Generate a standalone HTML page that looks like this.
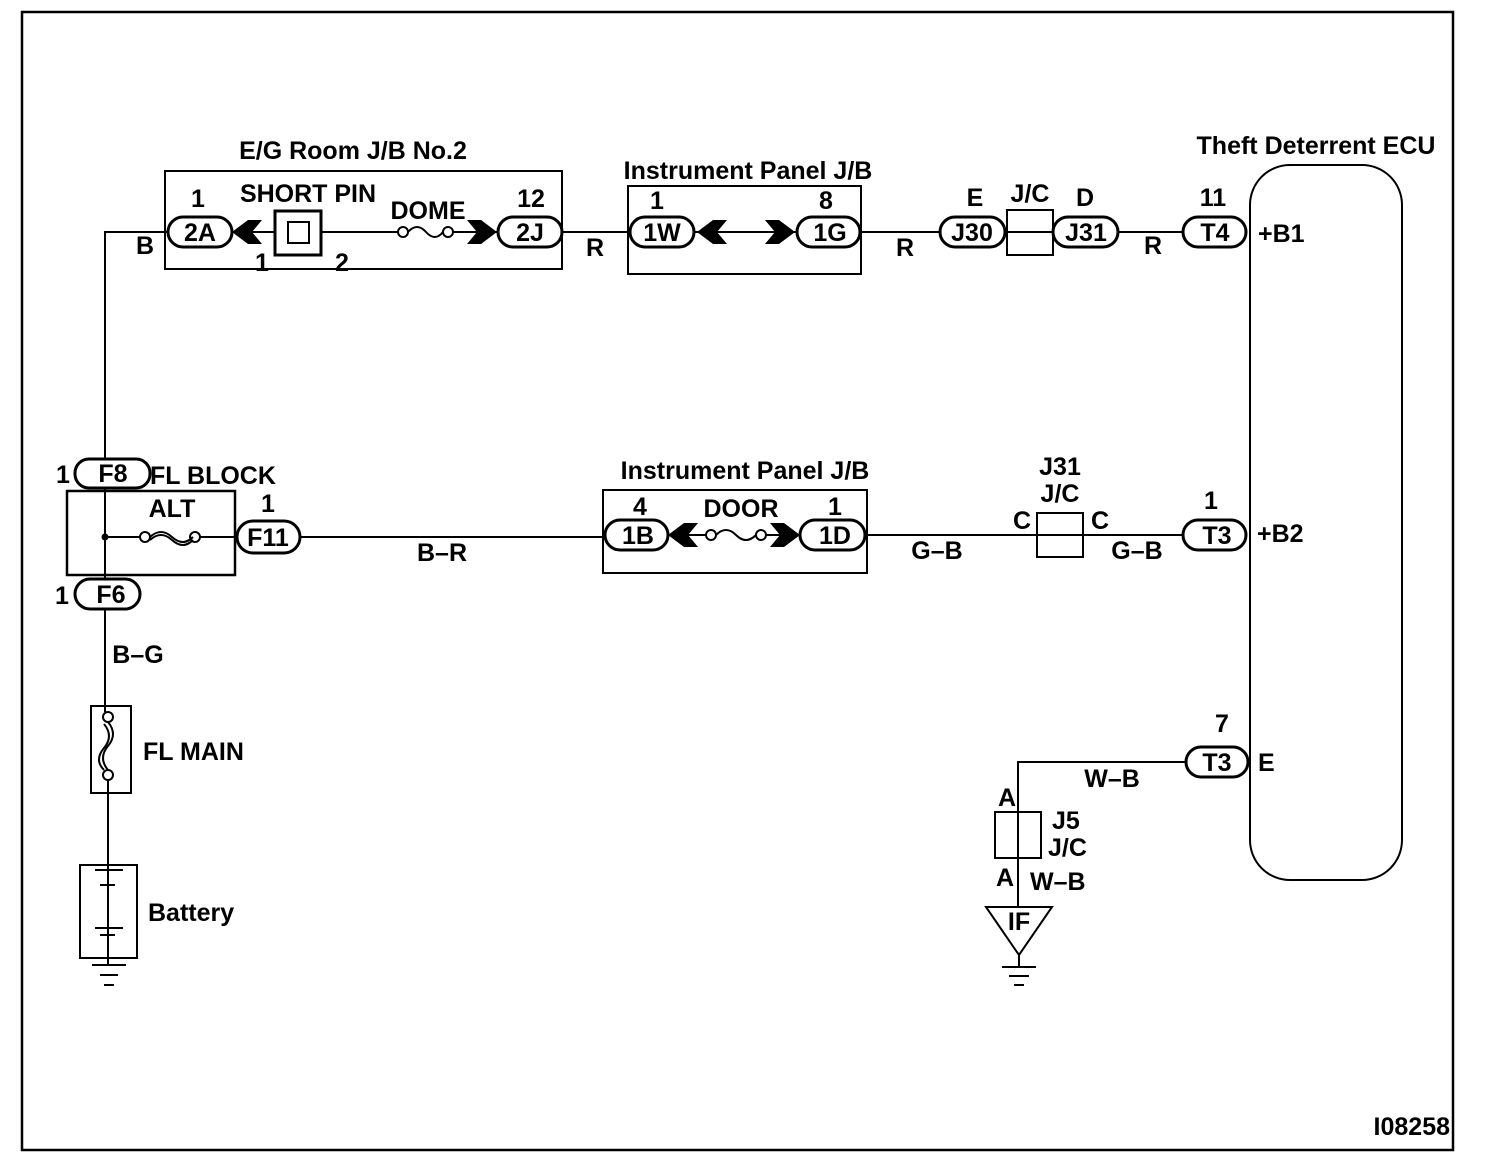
<!DOCTYPE html>
<html><head><meta charset="utf-8"><style>
html,body{margin:0;padding:0;background:#fff}
svg{display:block}
text{font-family:"Liberation Sans",Arial,sans-serif;font-size:25px;font-weight:bold;fill:#000}
</style></head><body>
<svg width="1504" height="1162" viewBox="0 0 1504 1162" xmlns="http://www.w3.org/2000/svg">
<g fill="none" stroke="#000" stroke-width="2">
<rect x="22" y="12" width="1431" height="1138" stroke-width="2.5"/>
<path d="M105 460 V232 H168 M232 232 H275 M321 232 H398 M452 232 H498 M562 232 H630 M694 232 H797 M860 232 H940 M1118 232 H1183"/>
<rect x="165" y="171" width="397" height="98"/>
<g stroke-width="3">
<rect x="168" y="217" width="64" height="30" rx="15"/>
<rect x="498" y="217" width="64" height="30" rx="15"/>
<rect x="630" y="217" width="64" height="30" rx="15"/>
<rect x="797" y="217" width="63" height="30" rx="15"/>
<rect x="940" y="217" width="65" height="30" rx="15"/>
<rect x="1053" y="217" width="65" height="30" rx="15"/>
<rect x="1183" y="217" width="63" height="30" rx="15"/>
<rect x="75" y="459" width="75" height="29" rx="14"/>
<rect x="237" y="521" width="63" height="32" rx="16"/>
<rect x="605" y="520" width="63" height="30" rx="15"/>
<rect x="800" y="520" width="65" height="30" rx="15"/>
<rect x="1183" y="520" width="63" height="30" rx="15"/>
<rect x="75" y="579" width="65" height="30" rx="15"/>
<rect x="1186" y="747" width="62" height="30" rx="15"/>
</g>
<rect x="275" y="211" width="46" height="44" stroke-width="3"/>
<rect x="288" y="222" width="21" height="21"/>
<circle cx="403" cy="232" r="5"/><circle cx="448" cy="232" r="5"/>
<path d="M408 232 q9 -10 18 0 t17 0"/>
<rect x="628" y="186" width="233" height="88"/>
<rect x="1007" y="210" width="46" height="45"/>
<path d="M1007 232 H1053"/>
<rect x="1250" y="165" width="152" height="715" rx="40"/>
<rect x="67" y="491" width="168" height="84" stroke-width="2.5"/>
<path d="M105 488 V579 M105 537 H140 M200 537 H237"/>
<circle cx="145" cy="537" r="5"/><circle cx="195" cy="537" r="5"/>
<path d="M150 537 q11 -10 22 0 t21 0 M150 540 q11 -10 22 0 t21 0"/>
<path d="M300 537 H605 M668 535 H706 M766 535 H800 M867 535 H1183"/>
<rect x="603" y="490" width="264" height="83"/>
<circle cx="711" cy="535" r="5"/><circle cx="761" cy="535" r="5"/>
<path d="M716 535 q10 -10 20 0 t20 0"/>
<rect x="1037" y="513" width="46" height="44"/>
<path d="M105 609 V712 M108 780 V965"/>
<rect x="91" y="706" width="40" height="87"/>
<circle cx="108" cy="717" r="5"/><circle cx="108" cy="775" r="5"/>
<path d="M108 722 q10 12 0 24 t0 24 M104 724 q10 12 0 24 t0 22"/>
<rect x="80" y="865" width="57" height="93"/>
<path d="M95 870 H123 M100 885 H115 M95 928 H123 M100 935 H115 M92 965 H126 M100 975 H118 M104 985 H114"/>
<path d="M1186 762 H1018 V908"/>
<rect x="995" y="812" width="46" height="46"/>
<path d="M986 907 H1052 L1019 955 Z M1019 955 V967 M1002 967 H1036 M1009 976 H1029 M1014 985 H1024"/>
</g>
<g fill="#000">
<path d="M232 232 L248 220 H262 L252 232 L262 244 H248 Z"/>
<path d="M497 232 L481 220 H467 L477 232 L467 244 H481 Z"/>
<path d="M697 232 L713 220 H727 L717 232 L727 244 H713 Z"/>
<path d="M795 232 L779 220 H765 L775 232 L765 244 H779 Z"/>
<path d="M668 535 L684 523 H698 L688 535 L698 547 H684 Z"/>
<path d="M800 535 L784 523 H770 L780 535 L770 547 H784 Z"/>
<circle cx="105" cy="537" r="3.5"/>
</g>
<g text-anchor="middle">
<text x="353" y="159">E/G Room J/B No.2</text>
<text x="198" y="207">1</text>
<text x="200" y="241">2A</text>
<text x="308" y="202">SHORT PIN</text>
<text x="428" y="219">DOME</text>
<text x="531" y="207">12</text>
<text x="530" y="241">2J</text>
<text x="262" y="271" font-size="21">1</text>
<text x="342" y="271" font-size="21">2</text>
<text x="145" y="254">B</text>
<text x="595" y="256">R</text>
<text x="748" y="179">Instrument Panel J/B</text>
<text x="657" y="209">1</text>
<text x="662" y="241">1W</text>
<text x="826" y="209">8</text>
<text x="830" y="241">1G</text>
<text x="905" y="256">R</text>
<text x="975" y="206">E</text>
<text x="972" y="241">J30</text>
<text x="1030" y="202">J/C</text>
<text x="1085" y="206">D</text>
<text x="1086" y="241">J31</text>
<text x="1153" y="254">R</text>
<text x="1213" y="206">11</text>
<text x="1215" y="241">T4</text>
<text x="1316" y="154">Theft Deterrent ECU</text>
<text x="63" y="483">1</text>
<text x="113" y="482">F8</text>
<text x="172" y="517">ALT</text>
<text x="268" y="512">1</text>
<text x="268" y="546">F11</text>
<text x="442" y="561">B–R</text>
<text x="745" y="479">Instrument Panel J/B</text>
<text x="640" y="515">4</text>
<text x="638" y="544">1B</text>
<text x="741" y="517">DOOR</text>
<text x="835" y="515">1</text>
<text x="835" y="544">1D</text>
<text x="937" y="559">G–B</text>
<text x="1060" y="475">J31</text>
<text x="1060" y="502">J/C</text>
<text x="1022" y="529">C</text>
<text x="1100" y="529">C</text>
<text x="1137" y="559">G–B</text>
<text x="1211" y="509">1</text>
<text x="1217" y="544">T3</text>
<text x="62" y="604">1</text>
<text x="111" y="603">F6</text>
<text x="138" y="663">B–G</text>
<text x="1222" y="732">7</text>
<text x="1217" y="771">T3</text>
<text x="1112" y="787">W–B</text>
<text x="1007" y="806">A</text>
<text x="1005" y="886">A</text>
<text x="1019" y="930">IF</text>
</g>
<text x="150" y="484">FL BLOCK</text>
<text x="143" y="760">FL MAIN</text>
<text x="148" y="921">Battery</text>
<text x="1258" y="242">+B1</text>
<text x="1257" y="542">+B2</text>
<text x="1258" y="771">E</text>
<text x="1052" y="829">J5</text>
<text x="1048" y="856">J/C</text>
<text x="1030" y="890">W–B</text>
<text x="1450" y="1135" font-size="13" text-anchor="end">I08258</text>
</svg>
</body></html>
